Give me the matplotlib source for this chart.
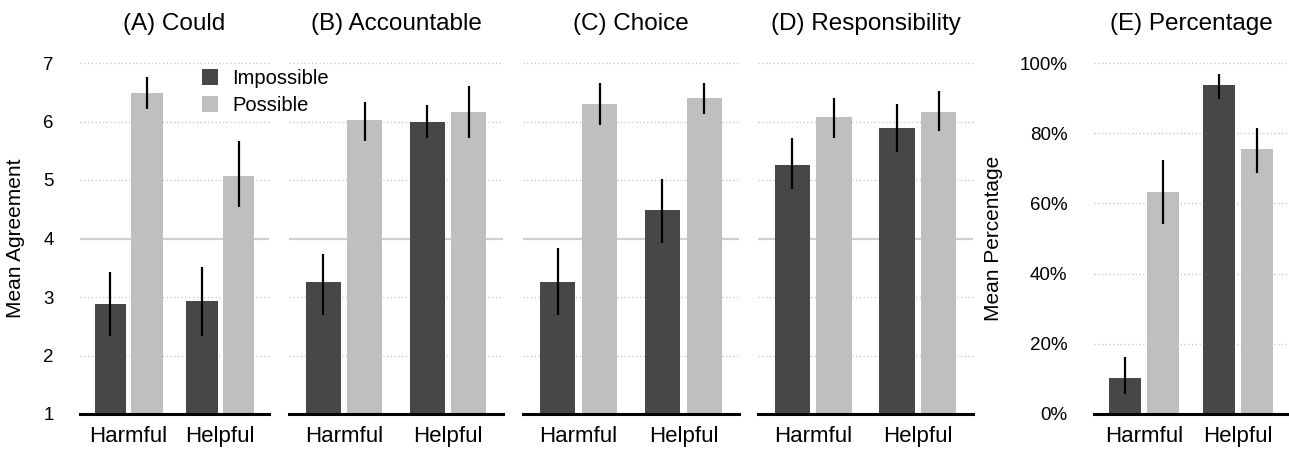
import matplotlib
matplotlib.use("Agg")
import matplotlib.pyplot as plt
from matplotlib.patches import Patch

plt.rcParams['font.family'] = ['Liberation Sans', 'DejaVu Sans']

# Groups and conditions
categories = ["Harmful", "Helpful"]
conditions = ["Impossible", "Possible"]
titles = ["(A) Could", "(B) Accountable", "(C) Choice", "(D) Responsibility", "(E) Percentage"]

# Means and interval bounds per panel (Harmful, Helpful)
could_imp = [2.88, 2.93]
could_imp_lo = [2.34, 2.33]
could_imp_hi = [3.43, 3.52]
could_pos = [6.48, 5.07]
could_pos_lo = [6.21, 4.53]
could_pos_hi = [6.76, 5.66]

acc_imp = [3.25, 5.99]
acc_imp_lo = [2.70, 5.71]
acc_imp_hi = [3.74, 6.29]
acc_pos = [6.03, 6.16]
acc_pos_lo = [5.67, 5.71]
acc_pos_hi = [6.34, 6.61]

choice_imp = [3.25, 4.49]
choice_imp_lo = [2.70, 3.93]
choice_imp_hi = [3.83, 5.02]
choice_pos = [6.30, 6.41]
choice_pos_lo = [5.94, 6.12]
choice_pos_hi = [6.66, 6.66]

resp_imp = [5.26, 5.89]
resp_imp_lo = [4.84, 5.48]
resp_imp_hi = [5.71, 6.30]
resp_pos = [6.08, 6.16]
resp_pos_lo = [5.72, 5.84]
resp_pos_hi = [6.40, 6.52]

pct_imp = [10.3, 93.7]
pct_imp_lo = [5.6, 89.8]
pct_imp_hi = [16.2, 96.8]
pct_pos = [63.2, 75.5]
pct_pos_lo = [54.2, 68.7]
pct_pos_hi = [72.4, 81.5]

agree_ticks = [1, 2, 3, 4, 5, 6, 7]
pct_ticks = [0, 20, 40, 60, 80, 100]
pct_labels = ["0%", "20%", "40%", "60%", "80%", "100%"]

panels = [
    (could_imp, could_imp_lo, could_imp_hi, could_pos, could_pos_lo, could_pos_hi),
    (acc_imp, acc_imp_lo, acc_imp_hi, acc_pos, acc_pos_lo, acc_pos_hi),
    (choice_imp, choice_imp_lo, choice_imp_hi, choice_pos, choice_pos_lo, choice_pos_hi),
    (resp_imp, resp_imp_lo, resp_imp_hi, resp_pos, resp_pos_lo, resp_pos_hi),
    (pct_imp, pct_imp_lo, pct_imp_hi, pct_pos, pct_pos_lo, pct_pos_hi),
]

colors = ["#474747", "#bfbfbf"]
W, H = 1289, 455
fig = plt.figure(figsize=(W / 100, H / 100), dpi=100)

# axes extents in pixels (left, right)
extents = [(80, 269), (289, 503), (523, 739), (758, 973), (1094, 1288)]
top, bottom = 63, 414

x = [0, 1]
offset = 0.2
width = 0.34

for i, (data, (l, r)) in enumerate(zip(panels, extents)):
    ax = fig.add_axes([l / W, 1 - bottom / H, (r - l) / W, (bottom - top) / H])
    is_pct = i == 4
    ticks = pct_ticks if is_pct else agree_ticks

    # background guides
    for t in ticks[1:]:
        if not is_pct and t == 4:
            ax.hlines(t, -0.53, 1.53, color="#cfcfcf", lw=1.6, zorder=0, clip_on=False)
        else:
            ax.hlines(t, -0.53, 1.53, color="#c4c4c4", lw=0.9,
                      linestyles=(0, (1, 2)), zorder=0, clip_on=False)

    for j in range(2):
        means, lo, hi = data[3 * j], data[3 * j + 1], data[3 * j + 2]
        pos = [v + (2 * j - 1) * offset for v in x]
        base = 0 if is_pct else 1
        ax.bar(pos, [m - base for m in means], width, bottom=base,
               color=colors[j], zorder=2, label=conditions[j])
        ax.vlines(pos, lo, hi, color="black", lw=1.6, zorder=3)

    ax.set_xlim(-0.53, 1.53)
    ax.set_ylim(ticks[0], ticks[-1])
    ax.set_xticks(x)
    ax.set_xticklabels(categories, fontsize=16)
    ax.tick_params(axis="x", length=0, pad=8.5)
    for s in ["top", "right", "left"]:
        ax.spines[s].set_visible(False)
    ax.spines["bottom"].set_linewidth(2.2)
    ax.set_title(titles[i], fontsize=17.5, pad=24)

    if i == 0:
        ax.set_yticks(agree_ticks)
        ax.tick_params(axis="y", length=0, pad=19, labelsize=13.5)
        ax.set_ylabel("Mean Agreement", fontsize=15)
        ax.yaxis.set_label_coords(-0.291, 0.5)
    elif is_pct:
        ax.set_yticks(pct_ticks)
        ax.set_yticklabels(pct_labels)
        ax.tick_params(axis="y", length=0, pad=19, labelsize=13.5)
        ax.set_ylabel("Mean Percentage", fontsize=15)
        ax.yaxis.set_label_coords(-0.469, 0.5)
    else:
        ax.set_yticks([])

handles = [Patch(facecolor=c, edgecolor="none") for c in colors]
fig.legend(handles, conditions, loc="upper left",
           bbox_to_anchor=(202 / W, 1 - 69 / H), frameon=False,
           fontsize=14.5, handlelength=0.8, handleheight=0.8,
           handletextpad=0.7, labelspacing=0.4, borderpad=0, borderaxespad=0)

fig.savefig("out.png", dpi=100)
